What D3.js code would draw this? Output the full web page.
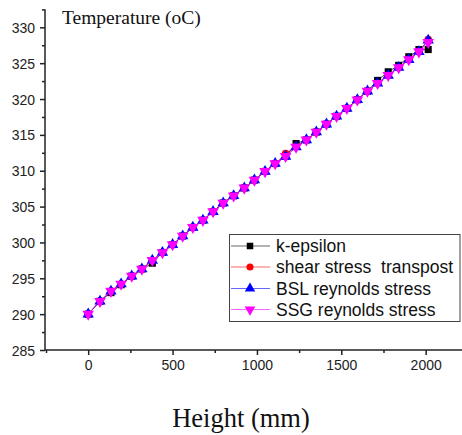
<!DOCTYPE html>
<html>
<head>
<meta charset="utf-8">
<script src="https://cdn.jsdelivr.net/npm/d3@7"></script>
<style>
  html, body { margin: 0; padding: 0; background: #fff; }
  svg { display: block; }
  .legend text { white-space: pre; }
</style>
</head>
<body>
<svg id="chart" width="462" height="435"></svg>
<script>
// Heights along the channel (mm)
const heights = [0, 70, 135, 195, 258, 318, 380, 440, 500, 560, 620, 680, 740, 800,
  862, 925, 985, 1048, 1108, 1170, 1232, 1293, 1352, 1412, 1472, 1533, 1595, 1655,
  1715, 1778, 1840, 1900, 1960, 2015];

// Temperature (oC) per turbulence model
const kEpsilon = [290.0, 291.8, 293.0, 294.1, 295.3, 296.3, 297.1, 298.6, 299.7, 300.9,
  302.1, 303.1, 304.3, 305.5, 306.5, 307.6, 308.7, 309.9, 311.0, 312.0, 313.8, 314.3,
  315.4, 316.5, 317.6, 318.7, 319.9, 321.1, 322.6, 323.8, 324.7, 325.9, 326.9, 326.9];
const shearStress = [290.0, 291.8, 293.2, 294.2, 295.3, 296.3, 297.5, 298.6, 299.7, 300.9,
  302.1, 303.1, 304.3, 305.5, 306.5, 307.6, 308.7, 309.9, 311.0, 312.4, 313.4, 314.3,
  315.4, 316.5, 317.6, 318.7, 319.9, 321.1, 322.2, 323.3, 324.4, 325.5, 326.6, 328.3];
const bslReynolds = [290.0, 291.8, 293.2, 294.2, 295.3, 296.3, 297.5, 298.6, 299.7, 300.9,
  302.1, 303.1, 304.3, 305.5, 306.5, 307.6, 308.7, 309.9, 311.0, 312.0, 313.3, 314.3,
  315.4, 316.5, 317.6, 318.7, 319.9, 321.1, 322.2, 323.3, 324.4, 325.5, 326.6, 328.2];
const ssgReynolds = [290.0, 291.8, 293.2, 294.2, 295.3, 296.3, 297.5, 298.6, 299.7, 300.9,
  302.1, 303.1, 304.3, 305.5, 306.5, 307.6, 308.7, 309.9, 311.0, 312.0, 313.3, 314.3,
  315.4, 316.5, 317.6, 318.7, 319.9, 321.1, 322.2, 323.3, 324.4, 325.5, 326.6, 327.9];

const seriesNames = ["k-epsilon", "shear stress  transpost", "BSL reynolds stress", "SSG reynolds stress"];
const seriesColors = ["#000000", "#ff0000", "#0000ff", "#ff00ff"];

const xMajorTicks = [0, 500, 1000, 1500, 2000];
const xMinorTicks = [-250, 250, 750, 1250, 1750, 2250];
const yMajorTicks = [285, 290, 295, 300, 305, 310, 315, 320, 325, 330];
const yMinorTicks = [287.5, 292.5, 297.5, 302.5, 307.5, 312.5, 317.5, 322.5, 327.5, 332.5];

const svg = d3.select("#chart");

const x = d3.scaleLinear().domain([-256, 2220]).range([45, 462.8]);
const y = d3.scaleLinear().domain([285, 332.5]).range([350, 9.4]);

const axisColor = "#222";
const tickFont = "Arial, 'Liberation Sans', sans-serif";

// X axis
const xAxis = svg.append("g").attr("transform", "translate(0,350)");
xAxis.call(d3.axisBottom(x).tickValues(xMajorTicks).tickSize(5).tickPadding(5).tickFormat(d3.format("d")));
const xMinor = svg.append("g").attr("transform", "translate(0,350)");
xMinor.call(d3.axisBottom(x).tickValues(xMinorTicks).tickSize(3).tickFormat(""));
xMinor.select(".domain").remove();

// Y axis
const yAxis = svg.append("g").attr("transform", "translate(45,0)");
yAxis.call(d3.axisLeft(y).tickValues(yMajorTicks).tickSize(5).tickPadding(5).tickFormat(d3.format("d")));
const yMinor = svg.append("g").attr("transform", "translate(45,0)");
yMinor.call(d3.axisLeft(y).tickValues(yMinorTicks).tickSize(3).tickFormat(""));
yMinor.select(".domain").remove();

[xAxis, xMinor, yAxis, yMinor].forEach(g => {
  g.selectAll("path, line").attr("stroke", axisColor).attr("stroke-width", 1.5);
  g.selectAll("text").attr("fill", "#222").style("font-family", tickFont).style("font-size", "14px");
});
xAxis.select(".domain").attr("d", `M${x.range()[0]},0H${x.range()[1]}`);
yAxis.select(".domain").attr("d", `M0,${y.range()[0]}V${y.range()[1]}`);
yAxis.selectAll("text").attr("dy", "0.36em");

// Axis titles
svg.append("text")
  .attr("x", 62).attr("y", 24)
  .style("font-family", "'Liberation Serif', 'Times New Roman', serif")
  .style("font-size", "19.5px")
  .attr("fill", "#111")
  .text("Temperature (oC)");

svg.append("text")
  .attr("x", 241).attr("y", 427)
  .attr("text-anchor", "middle")
  .style("font-family", "'Liberation Serif', 'Times New Roman', serif")
  .style("font-size", "26.5px")
  .attr("fill", "#111")
  .text("Height (mm)");

// Series
const allSeries = [kEpsilon, shearStress, bslReynolds, ssgReynolds];
const symbols = [
  { type: d3.symbolSquare, size: 50, rotate: 0 },
  { type: d3.symbolCircle, size: 46, rotate: 0 },
  { type: d3.symbolTriangle, size: 56, rotate: 0 },
  { type: d3.symbolTriangle, size: 58, rotate: 180 }
];

const line = d3.line().x(d => x(d[0])).y(d => y(d[1]));

allSeries.forEach((vals, i) => {
  const pts = heights.map((h, j) => [h, vals[j]]);
  const g = svg.append("g");
  g.append("path")
    .attr("d", line(pts))
    .attr("fill", "none")
    .attr("stroke", seriesColors[i])
    .attr("stroke-width", 1)
    .attr("stroke-opacity", 0.7);
  const sym = d3.symbol().type(symbols[i].type).size(symbols[i].size);
  g.selectAll("path.mk").data(pts).join("path")
    .attr("class", "mk")
    .attr("d", sym)
    .attr("transform", d => `translate(${x(d[0])},${y(d[1])}) rotate(${symbols[i].rotate})`)
    .attr("fill", seriesColors[i]);
});

// Legend
const legend = svg.append("g").attr("class", "legend");
legend.append("rect")
  .attr("x", 229.5).attr("y", 234.5).attr("width", 230.5).attr("height", 87)
  .attr("fill", "#fff").attr("stroke", "#444").attr("stroke-width", 1);

const rowY = [246, 267, 288.5, 309.5];
seriesNames.forEach((name, i) => {
  const r = legend.append("g").attr("transform", `translate(0,${rowY[i]})`);
  r.append("line").attr("x1", 231).attr("x2", 270).attr("y1", 0).attr("y2", 0)
    .attr("stroke", seriesColors[i]).attr("stroke-width", 1).attr("stroke-opacity", 0.6);
  r.append("path")
    .attr("d", d3.symbol().type(symbols[i].type).size(symbols[i].size * 0.85)())
    .attr("transform", `translate(250,0) rotate(${symbols[i].rotate})`)
    .attr("fill", seriesColors[i]);
  r.append("text")
    .attr("x", 276).attr("y", 0).attr("dy", "0.36em")
    .style("font-family", tickFont)
    .style("font-size", "17.5px")
    .attr("fill", "#111")
    .text(name);
});
</script>
</body>
</html>
